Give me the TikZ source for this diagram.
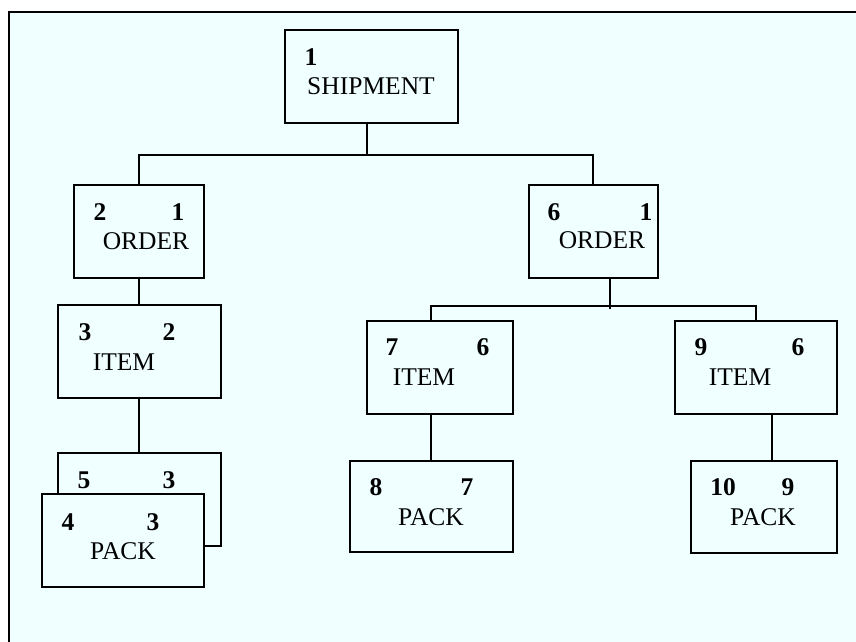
\documentclass[tikz,border=0pt]{standalone}
\usepackage{fontspec}
\setmainfont{Liberation Serif}
\definecolor{bgcyan}{HTML}{F0FFFF}
\begin{document}
\begin{tikzpicture}[x=1pt,y=-1pt,
  box/.style={draw=black,line width=1.8pt,fill=bgcyan,rectangle,inner sep=0pt,outer sep=0pt},
  num/.style={font=\fontsize{25.5}{30}\selectfont\bfseries,inner sep=0pt,anchor=base},
  lbl/.style={font=\fontsize{25.5}{30}\selectfont,inner sep=0pt,anchor=base},
  conn/.style={draw=black,line width=1.8pt}]
\useasboundingbox (0,0) rectangle (856,642);
\fill[white] (0,0) rectangle (856,642);
\fill[bgcyan] (9,12) rectangle (856,642);
\draw[line width=1.8pt] (856,12) -- (9,12) -- (9,642);
% boxes
\newcommand\mkbox[5]{\node[box,minimum width={#4-#2},minimum height={#5-#3}] (#1) at ({(#2+#4)/2},{(#3+#5)/2}) {};}
\mkbox{ship}{285}{30}{458}{123}
\mkbox{ordL}{74}{185}{204}{278}
\mkbox{ordR}{529}{185}{658}{278}
\mkbox{itemL}{58}{305}{221}{398}
\mkbox{packB}{58}{453}{221}{546}
\mkbox{packF}{42}{494}{204}{587}
\mkbox{itemM}{367}{321}{513}{414}
\mkbox{itemR}{675}{321}{837}{414}
\mkbox{packM}{350}{461}{513}{552}
\mkbox{packR}{691}{461}{837}{553}
% connectors
\coordinate (j1) at (367,155);
\coordinate (j2) at (610,306);
\coordinate (j2end) at (610,309);
\draw[conn] (ship.south -| j1) -- (j1);
\draw[conn] (ordL.north) |- (j1) -| (ordR.north -| 593,0);
\draw[conn] (ordR.south -| j2) -- (j2end);
\draw[conn] (itemM.north -| 431,0) |- (j2) -| (itemR.north -| 756,0);
\draw[conn] (ordL.south) -- (itemL.north -| ordL.south);
\draw[conn] (itemL.south -| ordL.south) -- (packB.north -| ordL.south);
\draw[conn] (itemM.south -| 431,0) -- (packM.north -| 431,0);
\draw[conn] (itemR.south -| 772,0) -- (packR.north -| 772,0);
% texts
\node[num] (shipn) at (311,65.5) {1};
\node[lbl] (shipt) at (371,94.5) {SHIPMENT};
\node[num] (ordLa) at (100,220.5) {2};
\node[num] (ordLb) at (178,220.5) {1};
\node[lbl] (ordLt) at (146,249.5) {ORDER};
\node[num] (ordRa) at (554,220.5) {6};
\node[num] (ordRb) at (646,220.5) {1};
\node[lbl] (ordRt) at (602,248.5) {ORDER};
\node[num] (itemLa) at (85,340.5) {3};
\node[num] (itemLb) at (169,340.5) {2};
\node[lbl] (itemLt) at (124,370.5) {ITEM};
\node[num] (packBa) at (84,488.5) {5};
\node[num] (packBb) at (169,488.5) {3};
\node[num] (packFa) at (68,530.5) {4};
\node[num] (packFb) at (153,530.5) {3};
\node[lbl] (packFt) at (123,559.5) {PACK};
\node[num] (itemMa) at (392,355.5) {7};
\node[num] (itemMb) at (483,355.5) {6};
\node[lbl] (itemMt) at (424,385.5) {ITEM};
\node[num] (itemRa) at (701,355.5) {9};
\node[num] (itemRb) at (798,355.5) {6};
\node[lbl] (itemRt) at (740,385.5) {ITEM};
\node[num] (packMa) at (376,495.5) {8};
\node[num] (packMb) at (467,495.5) {7};
\node[lbl] (packMt) at (431,525.5) {PACK};
\node[num] (packRa) at (723,495.5) {10};
\node[num] (packRb) at (788,495.5) {9};
\node[lbl] (packRt) at (763,525.5) {PACK};
\end{tikzpicture}
\end{document}
